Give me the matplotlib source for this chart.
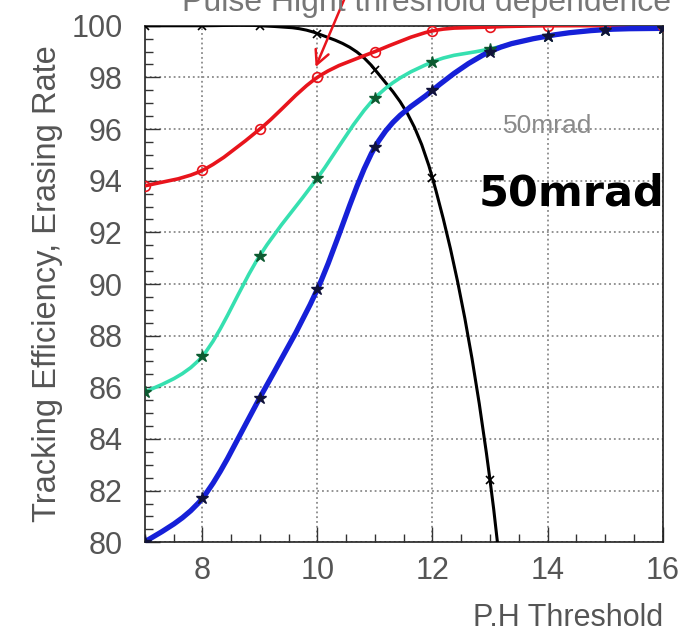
import numpy as np
import matplotlib
matplotlib.use('Agg')
import matplotlib.pyplot as plt
from matplotlib.path import Path
from matplotlib.patches import PathPatch
from matplotlib.ticker import MultipleLocator

# Valores
limiar = [7, 8, 9, 10, 11, 12, 13, 14, 15, 16]
vermelho = [93.8, 94.4, 96.0, 98.0, 99.0, 99.8, 99.95, 100.0, 100.0, 100.0]
turquesa = [85.8, 87.2, 91.1, 94.1, 97.2, 98.6, 99.1, 99.6, 99.85, 99.9]
azul = [80.0, 81.7, 85.6, 89.8, 95.3, 97.5, 99.0, 99.6, 99.85, 99.9]
limiar_preto = [7, 8, 9, 10, 11, 12, 13, 14]
preto = [100.0, 100.0, 100.0, 99.7, 98.3, 94.1, 82.4, 60.0]

cor_texto = '#555555'
plt.rcParams['font.family'] = ['Liberation Sans', 'DejaVu Sans']


def curva_suave(ax, xs, ys, cor, largura, z):
    # Curva tipo Catmull-Rom desenhada como Bezier (como a opção "C" do ROOT)
    pts = np.column_stack([xs, ys]).astype(float)
    n = len(pts)
    verts = [pts[0]]
    codes = [Path.MOVETO]
    for i in range(n - 1):
        p0 = pts[i - 1] if i > 0 else pts[i]
        p1 = pts[i]
        p2 = pts[i + 1]
        p3 = pts[i + 2] if i + 2 < n else pts[i + 1]
        c1 = p1 + (p2 - p0) / 6
        c2 = p2 - (p3 - p1) / 6
        verts += [c1, c2, p2]
        codes += [Path.CURVE4] * 3
    patch = PathPatch(Path(verts, codes), facecolor='none', edgecolor=cor,
                      lw=largura, zorder=z, capstyle='round', joinstyle='round')
    ax.add_patch(patch)


fig = plt.figure(figsize=(6.86, 6.44), dpi=100)
ax = fig.add_axes([0.211, 0.158, 0.755, 0.802])

ax.set_xlim(7, 16)
ax.set_ylim(80, 100)

curva_suave(ax, limiar_preto, preto, 'black', 2.2, 3)
curva_suave(ax, limiar, vermelho, '#e8141c', 2.6, 4)
curva_suave(ax, limiar, turquesa, '#36e0b0', 2.6, 4)
curva_suave(ax, limiar, azul, '#1620d8', 3.8, 5)

ax.plot(limiar, vermelho, 'o', ms=7, mfc='none', mec='#e8141c', mew=1.2, zorder=6)
ax.plot(limiar, turquesa, '*', ms=9, color='#0d5a30', zorder=6)
ax.plot(limiar, azul, '*', ms=9, color='#10123a', zorder=6)
ax.plot(limiar_preto, preto, 'x', ms=6, color='black', mew=1.2, zorder=6)

# Grade e eixos
ax.grid(True, which='major', linestyle=':', color='#8a8a8a', linewidth=1.3)
ax.xaxis.set_major_locator(MultipleLocator(2))
ax.xaxis.set_minor_locator(MultipleLocator(0.5))
ax.yaxis.set_major_locator(MultipleLocator(2))
ax.yaxis.set_minor_locator(MultipleLocator(0.5))
ax.tick_params(which='both', direction='in', top=False, right=False,
               colors='#333333', labelcolor=cor_texto, labelsize=22)
ax.tick_params(which='major', length=11, width=1)
ax.tick_params(which='minor', length=6, width=1)
ax.tick_params(axis='x', pad=10)
ax.tick_params(axis='y', pad=16)
for s in ax.spines.values():
    s.set_color('#222222')
    s.set_linewidth(1.2)

ax.set_ylabel('Tracking Efficiency, Erasing Rate', fontsize=23.5,
              color=cor_texto, labelpad=6)
ax.set_xlabel('P.H Threshold', fontsize=22, color=cor_texto, loc='right',
              labelpad=12)

# Textos
ax.text(14.0, 96.1, '50mrad', fontsize=19, color='#8a8a8a', ha='center',
        va='center', zorder=7)
ax.text(12.8, 93.5, '50mrad', fontsize=31, color='black', ha='left',
        va='center', fontweight='bold', family='DejaVu Sans', zorder=7)
fig.text(0.265, 0.983, 'Pulse Hight threshold dependence', fontsize=23,
         color='#777777', ha='left', va='baseline')

# Seta vermelha desenhada à mão
ax.annotate('', xy=(9.95, 98.3), xytext=(10.5, 101.2),
            arrowprops=dict(arrowstyle='->,head_length=1.0,head_width=0.5',
                            color='#e8141c', lw=1.8),
            annotation_clip=False, zorder=8)

fig.savefig('out.png', dpi=100)
